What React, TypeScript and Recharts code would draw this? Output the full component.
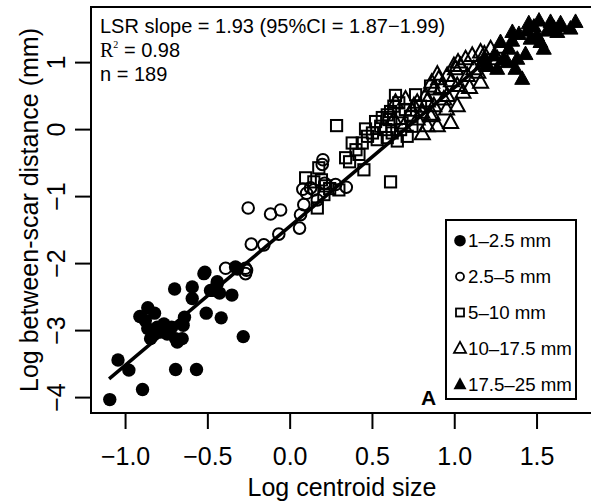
import React from 'react';
import { ScatterChart, Scatter, XAxis, YAxis, ReferenceArea, Legend } from 'recharts';

// ---- axis ticks ----
const xTicks = [-1, -0.5, 0, 0.5, 1, 1.5];
const yTicks = [-4, -3, -2, -1, 0, 1];
const xDomain = [-1.21, 1.84];
const yDomain = [-4.23, 1.83];

// ---- series labels ----
const seriesNames = ['1\u20132.5 mm', '2.5\u20135 mm', '5\u201310 mm', '10\u201317.5 mm', '17.5\u201325 mm'];

// ---- 1-2.5 mm (filled circles) ----
const s1x = [-1.096, -0.897, -1.046, -0.98, -0.696, -0.569, -0.285, -0.913, -0.865, -0.824, -0.865, -0.848, -0.807, -0.767, -0.747, -0.787, -0.696, -0.656, -0.686, -0.65, -0.642, -0.702, -0.595, -0.595, -0.51, -0.419, -0.518, -0.473, -0.443, -0.429, -0.354, -0.332, -0.524, -0.443, -0.484, -0.321, -0.88, -0.83, -0.72];
const s1y = [-4.03, -3.88, -3.44, -3.59, -3.58, -3.58, -3.09, -2.79, -2.66, -2.74, -2.97, -3.12, -2.95, -2.9, -3.05, -3.02, -3.12, -3.12, -3.17, -2.92, -2.8, -2.38, -2.35, -2.52, -2.74, -2.81, -2.13, -2.4, -2.3, -2.44, -2.47, -2.05, -2.15, -2.27, -2.4, -2.08, -2.85, -3.05, -2.95];

// ---- 2.5-5 mm (open circles) ----
const s2x = [-0.392, -0.271, -0.271, -0.265, -0.236, -0.16, -0.255, -0.119, -0.058, 0.057, -0.069, 0.063, 0.083, 0.199, 0.195, 0.077, 0.124, 0.276, 0.341, 0.165, 0.144, 0.1, 0.21];
const s2y = [-2.07, -2.07, -2.15, -2.1, -1.71, -1.72, -1.17, -1.26, -1.2, -1.47, -1.56, -1.27, -1.12, -0.45, -0.52, -0.89, -0.87, -0.82, -0.86, -1.05, -0.9, -0.95, -0.8];

// ---- 5-10 mm (open squares) ----
const s3x = [0.282, 0.448, 0.61, 0.377, 0.438, 0.361, 0.418, 0.458, 0.519, 0.529, 0.59, 0.63, 0.094, 0.174, 0.144, 0.205, 0.165, 0.296, 0.215, 0.59, 0.64, 0.762, 0.6, 0.651, 0.711, 0.671, 0.853, 0.731, 0.58, 0.61, 0.792, 0.337, 0.19, 0.24, 0.5, 0.55, 0.68, 0.62, 0.4, 0.7, 0.47, 0.56, 0.74, 0.66];
const s3y = [0.06, -0.6, -0.78, -0.2, -0.2, -0.48, -0.37, 0.01, 0.12, -0.15, 0.22, 0.35, -0.72, -0.57, -0.78, -0.97, -1.17, -0.9, -0.84, -0.12, 0.51, 0.52, 0.15, -0.17, -0.1, 0.0, 0.65, 0.2, 0.0, 0.27, 0.35, -0.42, -0.75, -0.88, -0.05, 0.05, 0.1, -0.05, -0.3, 0.3, -0.1, 0.18, 0.05, 0.4];

// ---- 10-17.5 mm (open triangles) ----
const s4x = [0.894, 0.954, 0.995, 0.803, 0.894, 0.975, 0.863, 0.752, 0.934, 0.833, 0.64, 0.701, 0.772, 0.823, 0.873, 0.903, 1.005, 1.035, 1.106, 1.157, 1.218, 1.015, 0.954, 0.873, 1.015, 0.853, 0.772, 0.833, 0.691, 0.63, 1.076, 1.116, 1.197, 1.258, 1.157, 1.278, 1.066, 0.8, 0.95, 1.05, 0.92, 1.09, 0.74, 0.98, 1.14, 0.86, 1.02, 1.18];
const s4y = [0.82, 0.8, 0.95, -0.07, 0.05, 0.1, 0.22, 0.35, 0.45, 0.42, 0.4, 0.45, 0.4, 0.5, 0.6, 0.75, 0.9, 0.95, 1.1, 1.15, 1.2, 0.65, 0.5, 0.35, 0.35, 0.2, 0.15, 0.05, 0.05, 0.15, 0.8, 0.9, 0.95, 1.05, 0.7, 1.22, 1.05, 0.25, 0.3, 0.55, 0.62, 0.62, 0.28, 0.72, 0.85, 0.7, 1.0, 1.12];

// ---- 17.5-25 mm (filled triangles) ----
const s5x = [1.512, 1.582, 1.643, 1.734, 1.703, 1.623, 1.562, 1.481, 1.44, 1.39, 1.521, 1.541, 1.43, 1.38, 1.369, 1.41, 1.329, 1.278, 1.349, 1.238, 1.298, 1.197, 1.643, 1.461, 1.258, 1.177, 1.6, 1.45, 1.35, 1.5, 1.32];
const s5y = [1.62, 1.6, 1.58, 1.6, 1.5, 1.45, 1.47, 1.53, 1.47, 1.42, 1.3, 1.2, 1.12, 1.05, 0.9, 0.75, 1.2, 1.3, 1.32, 1.1, 1.05, 0.95, 1.54, 1.35, 0.9, 1.05, 1.52, 1.58, 1.45, 1.4, 1.0];

// ---- fitted line ----
const lineX = [-1.1, 1.25];
const lineY = [-3.72, 1.15];

const zip = (xs: number[], ys: number[]) => xs.map((x, i) => ({ x, y: ys[i] }));

const FONT = '"Liberation Sans", Arial, Helvetica, sans-serif';

const FilledCircle = (p: any) => <circle cx={p.cx} cy={p.cy} r={6.7} fill="#000" />;
const OpenCircle = (p: any) => <circle cx={p.cx} cy={p.cy} r={5.8} fill="none" stroke="#000" strokeWidth={2} />;
const OpenSquare = (p: any) => (
  <rect x={p.cx - 5.6} y={p.cy - 5.6} width={11.2} height={11.2} fill="none" stroke="#000" strokeWidth={2} />
);
const triPts = (cx: number, cy: number, s: number) =>
  `${cx},${cy - 8.5 * s} ${cx - 7.5 * s},${cy + 5 * s} ${cx + 7.5 * s},${cy + 5 * s}`;
const OpenTri = (p: any) => (
  <polygon points={triPts(p.cx, p.cy, 1)} fill="none" stroke="#000" strokeWidth={2} strokeLinejoin="miter" />
);
const FilledTri = (p: any) => <polygon points={triPts(p.cx, p.cy, 1)} fill="#000" stroke="#000" strokeWidth={1} />;
const NoShape = () => <g />;

const fmtX = (v: number) => (v < 0 ? '\u2212' : '') + Math.abs(v).toFixed(1);
const fmtY = (v: number) => (v < 0 ? '\u2212' : '') + Math.abs(v).toString();

const XTick = (p: any) => (
  <text x={p.x} y={p.y + 34} textAnchor="middle" fontFamily={FONT} fontSize={25} fill="#000">
    {fmtX(p.payload.value)}
  </text>
);
const YTick = (p: any) => (
  <text
    transform={`translate(${p.x - 8},${p.y}) rotate(-90)`}
    textAnchor="middle"
    fontFamily={FONT}
    fontSize={25}
    fill="#000"
  >
    {fmtY(p.payload.value)}
  </text>
);

const legendSymbols = [
  (x: number, y: number) => <circle cx={x} cy={y} r={5.8} fill="#000" />,
  (x: number, y: number) => <circle cx={x} cy={y} r={4} fill="none" stroke="#000" strokeWidth={1.8} />,
  (x: number, y: number) => <rect x={x - 4} y={y - 4} width={8} height={8} fill="none" stroke="#000" strokeWidth={1.8} />,
  (x: number, y: number) => (
    <polygon points={`${x},${y - 6.5} ${x - 6},${y + 4.5} ${x + 6},${y + 4.5}`} fill="none" stroke="#000" strokeWidth={1.8} />
  ),
  (x: number, y: number) => <polygon points={`${x},${y - 7} ${x - 6.5},${y + 5} ${x + 6.5},${y + 5}`} fill="#000" />,
];

const LegendBox = (props: any) => {
  const present = new Set((props.payload || []).map((e: any) => e.value));
  const items = seriesNames.filter((n) => present.has(n));
  return (
    <svg width={132} height={181} style={{ display: 'block' }}>
      <rect x={1} y={1} width={130} height={179} fill="#fff" stroke="#000" strokeWidth={2} />
      {items.map((name: string, i: number) => {
        const cy = 21.7 + i * 35.9;
        const idx = seriesNames.indexOf(name);
        return (
          <g key={name}>
            {legendSymbols[idx](15, cy)}
            <text x={23} y={cy + 6.7} fontFamily={FONT} fontSize={18.7} fill="#000">
              {name}
            </text>
          </g>
        );
      })}
    </svg>
  );
};

export default function App() {
  return (
    <div style={{ position: 'absolute', left: 0, top: 0, width: 591, height: 504, overflow: 'hidden', background: '#fff' }}>
      <ScatterChart width={600} height={504} margin={{ top: 7, right: 7, bottom: 0, left: 0 }}>
        <XAxis
          type="number"
          dataKey="x"
          domain={xDomain}
          ticks={xTicks}
          interval={0}
          allowDataOverflow
          height={91}
          tickSize={16}
          axisLine={false}
          tickLine={{ stroke: '#000', strokeWidth: 2 }}
          tick={<XTick />}
          label={(lp: any) => {
            const vb = lp.viewBox || { x: 91, y: 413, width: 502 };
            return (
              <text x={vb.x + vb.width / 2} y={vb.y + 83} textAnchor="middle" fontFamily={FONT} fontSize={25} fill="#000">
                Log centroid size
              </text>
            );
          }}
        />
        <YAxis
          type="number"
          dataKey="y"
          domain={yDomain}
          ticks={yTicks}
          interval={0}
          allowDataOverflow
          width={91}
          tickSize={16}
          axisLine={false}
          tickLine={{ stroke: '#000', strokeWidth: 2 }}
          tick={<YTick />}
          label={(lp: any) => {
            const vb = lp.viewBox || { x: 0, y: 7, height: 406 };
            const cy = vb.y + vb.height / 2;
            return (
              <text
                transform={`translate(38,${cy}) rotate(-90)`}
                textAnchor="middle"
                fontFamily={FONT}
                fontSize={25}
                fill="#000"
              >
                Log between-scar distance (mm)
              </text>
            );
          }}
        />
        <ReferenceArea
          x1={xDomain[0]}
          x2={xDomain[1]}
          y1={yDomain[0]}
          y2={yDomain[1]}
          fill="none"
          fillOpacity={0}
          stroke="#000"
          strokeWidth={2}
          ifOverflow="visible"
        />
        <Scatter name={seriesNames[0]} data={zip(s1x, s1y)} shape={FilledCircle} isAnimationActive={false} />
        <Scatter name={seriesNames[1]} data={zip(s2x, s2y)} shape={OpenCircle} isAnimationActive={false} />
        <Scatter name={seriesNames[2]} data={zip(s3x, s3y)} shape={OpenSquare} isAnimationActive={false} />
        <Scatter name={seriesNames[3]} data={zip(s4x, s4y)} shape={OpenTri} isAnimationActive={false} />
        <Scatter name={seriesNames[4]} data={zip(s5x, s5y)} shape={FilledTri} isAnimationActive={false} />
        <Scatter
          name="fit"
          legendType="none"
          data={zip(lineX, lineY)}
          line={{ stroke: '#000', strokeWidth: 3.5 }}
          shape={NoShape}
          isAnimationActive={false}
        />
        <Legend
          layout="vertical"
          align="center"
          verticalAlign="middle"
          content={<LegendBox />}
          wrapperStyle={{ position: 'absolute', left: 445, top: 219, width: 132, height: 181, margin: 0 }}
        />
      </ScatterChart>
      <svg width={591} height={504} style={{ position: 'absolute', left: 0, top: 0, pointerEvents: 'none' }}>
        <text x={100} y={33} fontFamily={FONT} fontSize={20} fill="#000">
          LSR slope = 1.93 (95%CI = 1.87{'\u2212'}1.99)
        </text>
        <text x={100} y={57} fontFamily={FONT} fontSize={20} fill="#000">
          <tspan fontFamily='"Liberation Serif", "Times New Roman", serif'>R</tspan>
          <tspan fontFamily='"Liberation Serif", "Times New Roman", serif' fontSize={10} dy={-9}>2</tspan>
          <tspan dy={9}> = 0.98</tspan>
        </text>
        <text x={100} y={81} fontFamily={FONT} fontSize={20} fill="#000">
          n = 189
        </text>
        <text x={421} y={405} fontFamily={FONT} fontSize={21} fontWeight="bold" fill="#000">
          A
        </text>
      </svg>
    </div>
  );
}
